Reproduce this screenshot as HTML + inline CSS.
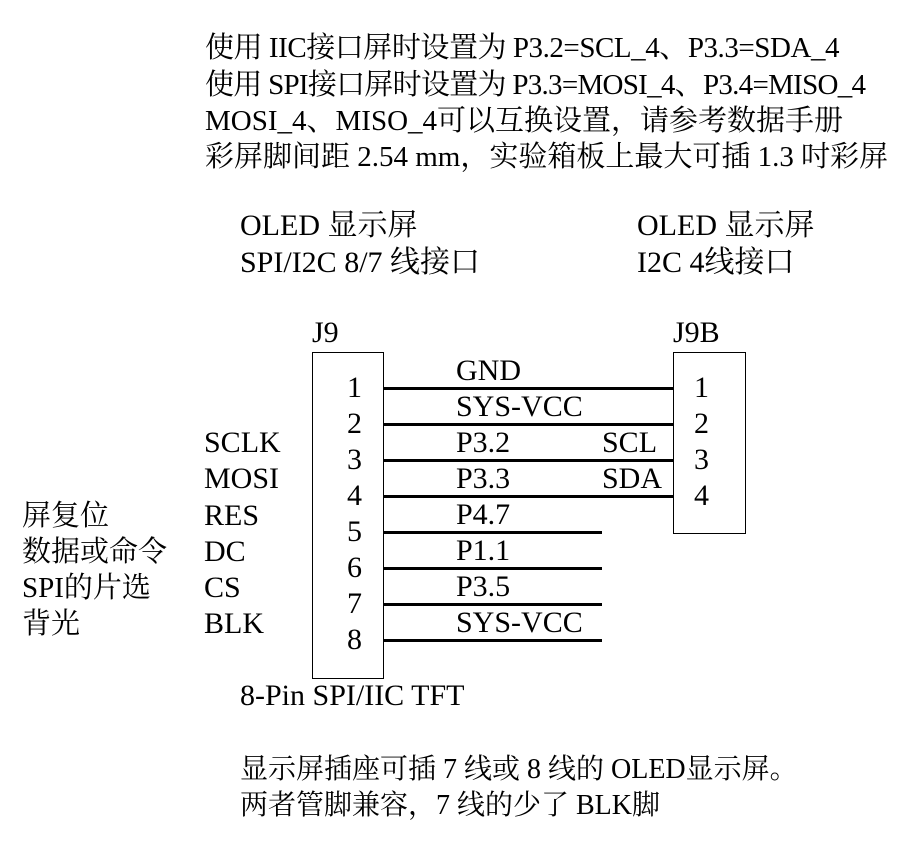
<!DOCTYPE html>
<html><head><meta charset="utf-8"><style>
body{margin:0;width:900px;height:846px;background:#fff;position:relative;overflow:hidden;font-family:"Liberation Serif","Noto Serif CJK SC",serif;color:#000}
.t{position:absolute;white-space:nowrap;font-size:30px;line-height:30px}
.a{font-size:29px}
.c{font-size:28px}
.l{position:absolute;background:#000;height:3px}
.b{position:absolute;border:1.5px solid #000;box-sizing:border-box}
</style></head><body>
<div class="t a" style="left:205px;top:33px;letter-spacing:-0.45px">使用 IIC接口屏时设置为 P3.2=SCL_4、P3.3=SDA_4</div>
<div class="t a" style="left:205px;top:70px;letter-spacing:-0.72px">使用 SPI接口屏时设置为 P3.3=MOSI_4、P3.4=MISO_4</div>
<div class="t a" style="left:205px;top:106px">MOSI_4、MISO_4可以互换设置，请参考数据手册</div>
<div class="t a" style="left:205px;top:142px">彩屏脚间距 2.54 mm，实验箱板上最大可插 1.3 吋彩屏</div>
<div class="t" style="left:240px;top:211px">OLED 显示屏</div>
<div class="t" style="left:240px;top:248px">SPI/I2C 8/7 线接口</div>
<div class="t" style="left:637px;top:211px">OLED 显示屏</div>
<div class="t" style="left:637px;top:248px">I2C 4线接口</div>
<div class="t" style="left:312px;top:318px">J9</div>
<div class="t" style="left:673px;top:318px">J9B</div>
<div class="b" style="left:312px;top:352px;width:72px;height:327px"></div>
<div class="b" style="left:673px;top:352px;width:73px;height:182px"></div>
<div class="l" style="left:383px;top:387px;width:290px"></div>
<div class="l" style="left:383px;top:423px;width:290px"></div>
<div class="l" style="left:383px;top:459px;width:290px"></div>
<div class="l" style="left:383px;top:495px;width:290px"></div>
<div class="l" style="left:383px;top:531px;width:219px"></div>
<div class="l" style="left:383px;top:567px;width:219px"></div>
<div class="l" style="left:383px;top:603px;width:219px"></div>
<div class="l" style="left:383px;top:639px;width:219px"></div>
<div class="t" style="left:347px;top:373px">1</div>
<div class="t" style="left:347px;top:409px">2</div>
<div class="t" style="left:347px;top:445px">3</div>
<div class="t" style="left:347px;top:481px">4</div>
<div class="t" style="left:347px;top:517px">5</div>
<div class="t" style="left:347px;top:553px">6</div>
<div class="t" style="left:347px;top:589px">7</div>
<div class="t" style="left:347px;top:625px">8</div>
<div class="t" style="left:694px;top:373px">1</div>
<div class="t" style="left:694px;top:409px">2</div>
<div class="t" style="left:694px;top:445px">3</div>
<div class="t" style="left:694px;top:481px">4</div>
<div class="t" style="left:456px;top:356px">GND</div>
<div class="t" style="left:456px;top:392px">SYS-VCC</div>
<div class="t" style="left:456px;top:428px">P3.2</div>
<div class="t" style="left:456px;top:464px">P3.3</div>
<div class="t" style="left:456px;top:500px">P4.7</div>
<div class="t" style="left:456px;top:536px">P1.1</div>
<div class="t" style="left:456px;top:572px">P3.5</div>
<div class="t" style="left:456px;top:608px">SYS-VCC</div>
<div class="t" style="left:602px;top:428px">SCL</div>
<div class="t" style="left:602px;top:464px">SDA</div>
<div class="t" style="left:204px;top:428px">SCLK</div>
<div class="t" style="left:204px;top:464px">MOSI</div>
<div class="t" style="left:204px;top:501px">RES</div>
<div class="t" style="left:204px;top:537px">DC</div>
<div class="t" style="left:204px;top:573px">CS</div>
<div class="t" style="left:204px;top:609px">BLK</div>
<div class="t a" style="left:22px;top:501px">屏复位</div>
<div class="t a" style="left:22px;top:537px">数据或命令</div>
<div class="t a" style="left:22px;top:573px">SPI的片选</div>
<div class="t a" style="left:22px;top:609px">背光</div>
<div class="t" style="left:240px;top:681px">8-Pin SPI/IIC TFT</div>
<div class="t c" style="left:240px;top:755px">显示屏插座可插 7 线或 8 线的 OLED显示屏。</div>
<div class="t c" style="left:240px;top:791px">两者管脚兼容，7 线的少了 BLK脚</div>
</body></html>
